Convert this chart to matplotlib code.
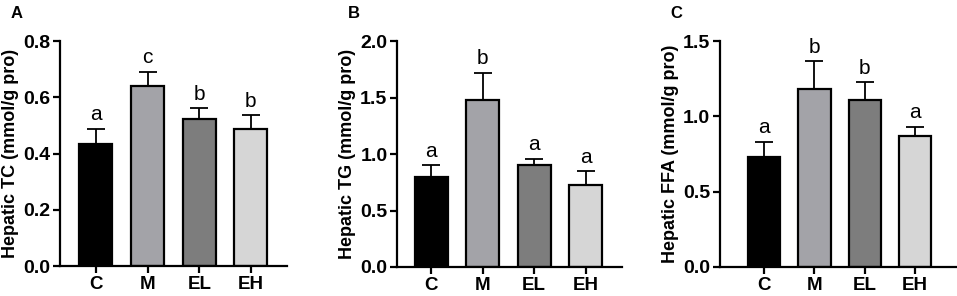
import matplotlib.pyplot as plt

plt.rcParams['font.family'] = ['Liberation Sans', 'DejaVu Sans']

groups = ['C', 'M', 'EL', 'EH']
colors = ['#000000', '#a3a3a8', '#7d7d7d', '#d6d6d6']

tc_mean = [0.433, 0.640, 0.524, 0.486]
tc_err = [0.056, 0.051, 0.037, 0.051]
tc_sig = ['a', 'c', 'b', 'b']

tg_mean = [0.798, 1.477, 0.901, 0.730]
tg_err = [0.103, 0.242, 0.059, 0.118]
tg_sig = ['a', 'b', 'a', 'a']

ffa_mean = [0.733, 1.182, 1.111, 0.867]
ffa_err = [0.100, 0.185, 0.116, 0.066]
ffa_sig = ['a', 'b', 'b', 'a']

panels = [
    ('A', 'Hepatic TC (mmol/g pro)', tc_mean, tc_err, tc_sig, 0.8, [0, 0.2, 0.4, 0.6, 0.8], '{:.1f}',
     [0.063, 0.101, 0.237, 0.760], (-0.69, 3.70)),
    ('B', 'Hepatic TG (mmol/g pro)', tg_mean, tg_err, tg_sig, 2.0, [0, 0.5, 1.0, 1.5, 2.0], '{:.1f}',
     [0.415, 0.098, 0.235, 0.763], (-0.66, 3.71)),
    ('C', 'Hepatic FFA (mmol/g pro)', ffa_mean, ffa_err, ffa_sig, 1.5, [0, 0.5, 1.0, 1.5], '{:.1f}',
     [0.752, 0.098, 0.248, 0.763], (-0.89, 3.84)),
]

fig = plt.figure(figsize=(9.57, 2.96), dpi=100)

for letter, ylabel, mean, err, sig, ymax, yticks, fmt, rect, xlim in panels:
    ax = fig.add_axes(rect)
    x = list(range(len(groups)))
    ax.errorbar(x, mean, yerr=[[0] * len(err), err], fmt='none', ecolor='black',
                elinewidth=1.3, capsize=6.5, capthick=1.3, zorder=1)
    ax.bar(x, mean, width=0.64, color=colors, edgecolor='black', linewidth=1.6, zorder=2)
    for xi, m, e, s in zip(x, mean, err, sig):
        ax.text(xi, m + e + ymax * 0.02, s, ha='center', va='bottom', fontsize=15)
    ax.set_xlim(*xlim)
    ax.set_ylim(0, ymax)
    ax.set_yticks(yticks)
    ax.set_yticklabels([fmt.format(t) for t in yticks], fontsize=14, fontweight='bold')
    ax.set_xticks(x)
    ax.set_xticklabels(groups, fontsize=13.5, fontweight='bold')
    ax.set_ylabel(ylabel, fontsize=13, fontweight='bold', labelpad=3)
    for side in ['top', 'right']:
        ax.spines[side].set_visible(False)
    for side in ['left', 'bottom']:
        ax.spines[side].set_linewidth(1.6)
    ax.tick_params(axis='both', width=1.6, length=5, pad=2)
    fig.text(rect[0] - 0.052, 0.955, letter, fontsize=12, fontweight='bold', ha='left', va='center')

fig.savefig('out.png', dpi=100)
